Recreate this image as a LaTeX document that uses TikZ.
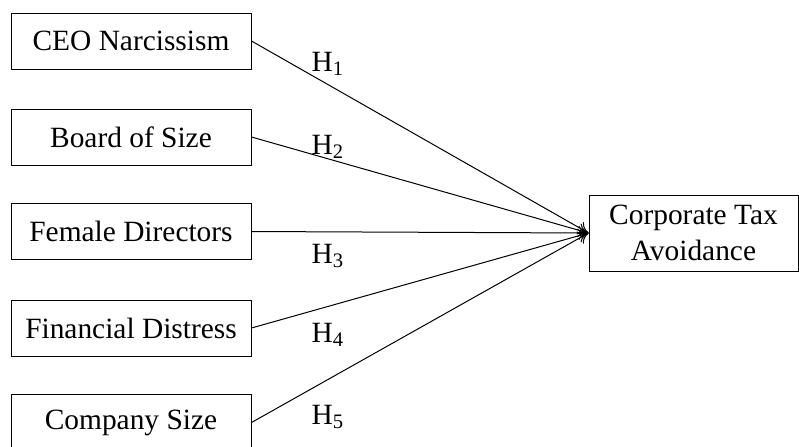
\documentclass[tikz,border=0pt]{standalone}
\usepackage{fontspec}
\setmainfont{Liberation Serif}
\usetikzlibrary{arrows.meta}
\tikzset{
  varbox/.style={draw, line width=0.5pt, minimum width=120pt, minimum height=28pt, inner sep=0pt, font=\fontsize{14.7}{18}\selectfont},
  depbox/.style={draw, line width=0.5pt, minimum width=104.5pt, minimum height=38pt, inner sep=0pt, align=center, font=\fontsize{14.7}{18}\selectfont},
  hyp/.style={line width=0.5pt, -{To[length=5pt,width=7pt]}},
  hlabel/.style={font=\fontsize{14.7}{18}\selectfont, inner sep=0pt}
}
\begin{document}
\begin{tikzpicture}[x=0.5pt,y=-0.5pt]
\useasboundingbox (0,0) rectangle (799,446);
% variables
\node [varbox] (ceo) at (131,41) {CEO Narcissism};
\node [varbox] (board) at (131,137) {Board of Size};
\node [varbox] (female) at (131,231.5) {Female Directors};
\node [varbox] (distress) at (131,328) {Financial Distress};
\node [varbox] (size) at (131,422.5) {Company Size};
\node [depbox] (cta) at (693.5,233) {Corporate Tax\\Avoidance};
% hypotheses
\draw [hyp] (ceo.east) -- (cta.west);
\draw [hyp] (board.east) -- (cta.west);
\draw [hyp] (female.east) -- (cta.west);
\draw [hyp] (distress.east) -- (cta.west);
\draw [hyp] (size.east) -- (cta.west);
% labels
\node [hlabel] (h1) at (328,64) {H\textsubscript{1}};
\node [hlabel] (h2) at (328,147) {H\textsubscript{2}};
\node [hlabel] (h3) at (328,256) {H\textsubscript{3}};
\node [hlabel] (h4) at (328,335) {H\textsubscript{4}};
\node [hlabel] (h5) at (328,417) {H\textsubscript{5}};
\end{tikzpicture}
\end{document}
